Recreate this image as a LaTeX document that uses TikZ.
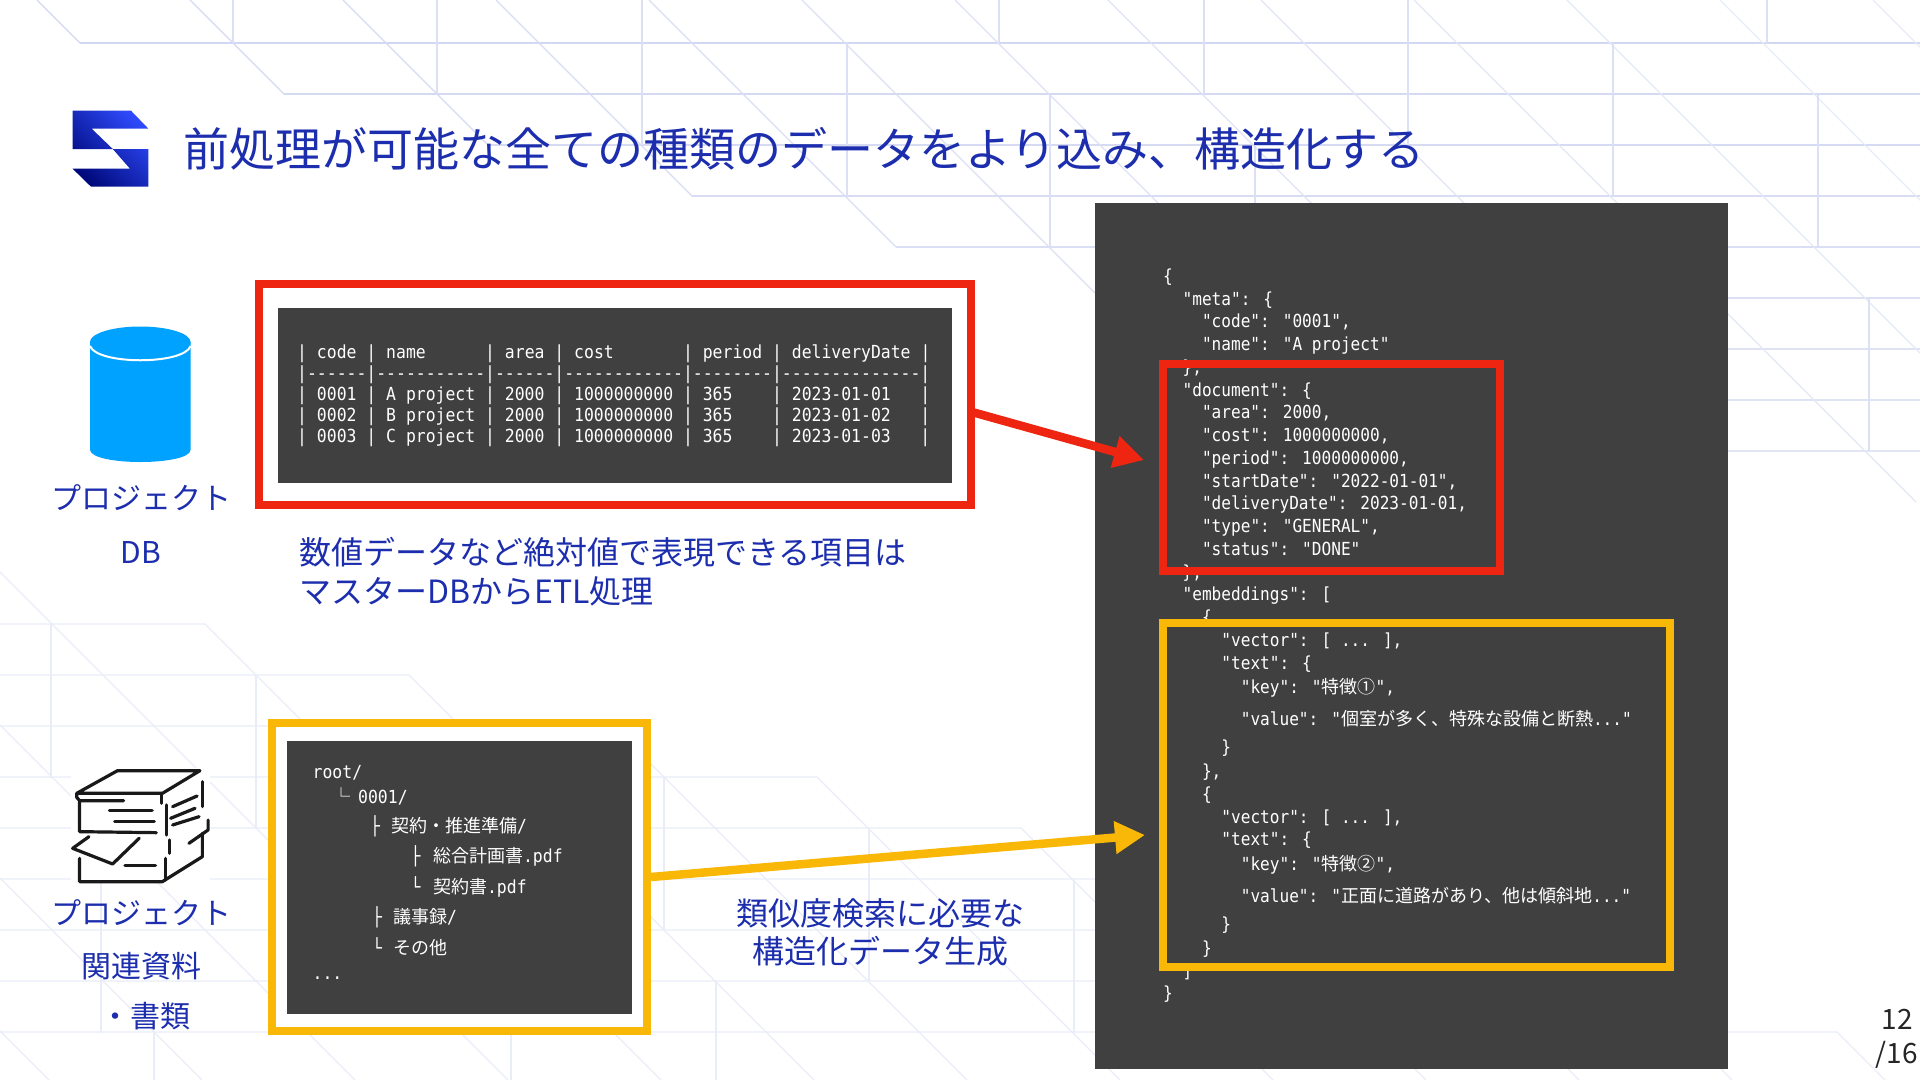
\documentclass[tikz,border=0pt]{standalone}
\usepackage{fontspec}
\usetikzlibrary{arrows.meta}
\setmainfont{Noto Sans CJK JP}
\newfontfamily\jpfont{Noto Sans CJK JP}
\newfontfamily\codefont[FakeStretch=0.913]{DejaVu Sans Mono}
\newfontfamily\jsonfont[FakeStretch=0.895]{DejaVu Sans Mono}
\newcommand{\jp}[1]{{\jpfont #1}}
\definecolor{inkblue}{HTML}{1C2EAD}
\definecolor{panelgray}{HTML}{404040}
\definecolor{hotred}{HTML}{EE2510}
\definecolor{warmyellow}{HTML}{F9B807}
\definecolor{griddark}{HTML}{D3D8F2}
\definecolor{gridlight}{HTML}{E9EDF7}
\definecolor{dbblue}{HTML}{00A2FF}
\definecolor{logodark}{HTML}{000A7C}
\definecolor{logobright}{HTML}{2E49FA}
\tikzset{
  gridline/.style={line width=1.3pt},
  panel/.style={rectangle, draw=black!75, fill=panelgray, line width=0.8pt, anchor=north west, inner sep=0pt},
  framebox/.style={rectangle, draw=#1, line width=8pt, anchor=north west, inner sep=0pt},
  codetext/.style={text=white, inner sep=0pt, align=left, font=\codefont\fontsize{18}{22.75}\selectfont},
  treeline/.style={codetext, anchor=west},
  sidelabel/.style={text=inkblue, inner sep=0pt, font=\fontsize{30}{36}\selectfont},
  caption/.style={text=inkblue, inner sep=0pt, font=\fontsize{32}{39}\selectfont},
  pagenum/.style={text=black!85, inner sep=0pt, anchor=east, font=\fontsize{28}{32}\selectfont},
  linkarrow/.style={draw=#1, line width=8.5pt, -{Triangle[length=30pt,width=31pt,fill=#1]}},
  iconline/.style={line width=3.2pt, line cap=round, line join=round, black!90}
}
\begin{document}
\begin{tikzpicture}[x=1pt, y=-1pt]
  \useasboundingbox (0,0) rectangle (1920,1080);
  \fill[white] (0,0) rectangle (1920,1080);

  % Background: upper sheet of lines
  \begin{scope}
    \clip (0,0) rectangle (1920,1080);
    \foreach \k in {0,...,12} {
      \pgfmathsetmacro\xtop{37+153*\k}
      \pgfmathsetmacro\yend{43+51*\k}
      \pgfmathsetmacro\xend{\xtop+\yend}
      \pgfmathtruncatemacro\mixpct{100-8*\k}
      \draw[gridline, griddark!\mixpct!gridlight] (\xtop,0) -- (\xend,\yend);
      \ifnum\k<9
        \draw[gridline, griddark!\mixpct!gridlight] (\xend,\yend) -- (1920,\yend);
      \fi
    }
    \foreach \xpos/\ya/\yb in {233/0/43, 437/0/94, 642/0/145, 847/43/196, 1050/94/247, 1255/145/298,
        999/0/43, 1204/0/94, 1408/0/145, 1613/43/196, 1818/94/247, 1869/298/451, 1767/0/43} {
      \draw[gridline, griddark!60!gridlight] (\xpos,\ya) -- (\xpos,\yb);
    }

    % Background: lower sheet of lines
    \foreach \k in {0,...,8} {
      \pgfmathsetmacro\xend{205+204*\k}
      \pgfmathsetmacro\yend{624+51*\k}
      \pgfmathsetmacro\xlow{\xend+1080-\yend}
      \draw[gridline, gridlight] (0,\yend) -- (\xend,\yend) -- (\xlow,1080);
    }
    \foreach \ystart in {572,725,878,1031} {
      \draw[gridline, gridlight] (0,\ystart) -- (1080-\ystart,1080);
    }
    \foreach \xpos/\ya/\yb in {51/624/778, 256/675/829, 460/726/880, 664/778/930, 869/829/982, 1074/880/1033,
        101/880/1033, 307/930/1033, 154/1033/1080, 511/1033/1080, 716/982/1080} {
      \draw[gridline, gridlight] (\xpos,\ya) -- (\xpos,\yb);
    }
  \end{scope}

  % Header
  \shade[bottom color=logodark, top color=logobright, shading angle=-45]
    (72.6,110.7) -- (131,110.7) -- (148.4,128.7) -- (91.7,128.7) -- (112.8,149) -- (72.6,149) -- cycle
    (112.8,149) -- (148.4,149) -- (148.4,186.7) -- (91,186.7) -- (72.6,168.7) -- (130,168.7) -- cycle;
  \node[anchor=west, inner sep=0pt, text=inkblue, font=\fontsize{46}{50}\selectfont] (titletext) at (183,149)
    {前処理が可能な全ての種類のデータをより込み、構造化する};

  % Left column: database
  \fill[dbblue] (90,342) -- (90,450) .. controls (92,466) and (189,466) .. (190.6,450) -- (190.6,342) -- cycle;
  \draw[white, line width=2pt] (90,346) .. controls (97,365) and (184,365) .. (190.6,346);
  \fill[dbblue] (140.3,342) ellipse [x radius=50.3, y radius=15.5];
  \node[sidelabel] (dblabela) at (141,498) {プロジェクト};
  \node[sidelabel] (dblabelb) at (141,552) {DB};

  % Left column: documents
  \begin{scope}[shift={(40,710)}, x=0.408pt, y=-0.3333pt]
    \fill[white] (75,175) rectangle (416,520);
    \draw[iconline] (205,272) -- (97,272) -- (90,262) -- (90,250) -- (190,182) -- (392,182) -- (300,250) -- (90,250);
    \draw[iconline] (298,250) -- (298,280);
    \draw[iconline] (97,275) -- (97,365) -- (285,368);
    \draw[iconline] (170,302) -- (275,302);
    \draw[iconline] (183,335) -- (280,335);
    \draw[iconline] (398,215) -- (398,290);
    \draw[iconline] (325,290) -- (385,258);
    \draw[iconline] (320,325) -- (380,295);
    \draw[iconline] (325,345) -- (390,320);
    \draw[iconline] (310,285) -- (310,375);
    \draw[iconline] (412,330) -- (412,360) -- (365,400);
    \draw[iconline] (120,380) -- (80,415) -- (178,462) -- (243,385);
    \draw[iconline] (97,445) -- (97,515) -- (300,515) -- (398,440) -- (398,370);
    \draw[iconline] (208,467) -- (283,467);
    \draw[iconline] (318,390) -- (318,430);
    \draw[iconline] (308,445) -- (308,510);
  \end{scope}
  \node[sidelabel] (doclabela) at (141,913) {プロジェクト};
  \node[sidelabel] (doclabelb) at (141,966) {関連資料};
  \node[sidelabel] (doclabelc) at (145,1016) {・書類};

  % Middle: master table
  \node[framebox=hotred, fill=white, minimum width=712.5, minimum height=221] (tablebox) at (254.5,280) {};
  \node[panel, minimum width=673, minimum height=173.5] (tablepanel) at (278,308) {};
  \node[codetext, anchor=north west, font=\codefont\fontsize{18}{21}\selectfont] (tabletext) at (297,345) {
    |~code~|~name~~~~~~|~area~|~cost~~~~~~~|~period~|~deliveryDate~|\\
    |------|-----------|------|------------|--------|--------------|\\
    |~0001~|~A~project~|~2000~|~1000000000~|~365~~~~|~2023-01-01~~~|\\
    |~0002~|~B~project~|~2000~|~1000000000~|~365~~~~|~2023-01-02~~~|\\
    |~0003~|~C~project~|~2000~|~1000000000~|~365~~~~|~2023-01-03~~~|};
  \node[caption, anchor=west] (tablecapa) at (299,552) {数値データなど絶対値で表現できる項目は};
  \node[caption, anchor=west] (tablecapb) at (299,591) {マスターDBからETL処理};

  % Middle: file tree
  \node[framebox=warmyellow, fill=white, minimum width=375, minimum height=308] (treebox) at (268,719) {};
  \node[panel, minimum width=344, minimum height=272] (treepanel) at (287,741) {};
  \node[treeline] (treeroot) at (312.5,773) {root/};
  \node[treeline] (treecode) at (332,796) {\jp{└}\hspace{8pt}0001/};
  \node[treeline] (treedeal) at (370,826) {├\hspace{11pt}\jp{契約・推進準備}/};
  \node[treeline] (treeplan) at (410.5,856) {├\hspace{12.5pt}\jp{総合計画書}.pdf};
  \node[treeline] (treepact) at (410.5,887) {└\hspace{12.5pt}\jp{契約書}.pdf};
  \node[treeline] (treemins) at (372,917) {├\hspace{11pt}\jp{議事録}/};
  \node[treeline] (treerest) at (372,947) {└\hspace{11pt}\jp{その他}};
  \node[treeline] (treedots) at (312.5,978) {...};
  \node[caption] (treecapa) at (880,913) {類似度検索に必要な};
  \node[caption] (treecapb) at (880,951) {構造化データ生成};

  % Right: generated json
  \node[panel, minimum width=631.5, minimum height=865] (jsonpanel) at (1095,203) {};
  \node[codetext, anchor=north west, font=\jsonfont\fontsize{18}{22.75}\selectfont] (jsontext) at (1163,268.5) {
    \{\\
    ~~"meta": \{\\
    ~~~~"code": "0001",\\
    ~~~~"name": "A~project"\\
    ~~\},\\
    ~~"document": \{\\
    ~~~~"area": 2000,\\
    ~~~~"cost": 1000000000,\\
    ~~~~"period": 1000000000,\\
    ~~~~"startDate": "2022-01-01",\\
    ~~~~"deliveryDate": 2023-01-01,\\
    ~~~~"type": "GENERAL",\\
    ~~~~"status": "DONE"\\
    ~~\},\\
    ~~"embeddings": [\\
    ~~~~\{\\
    ~~~~~~"vector": [ ... ],\\
    ~~~~~~"text": \{\\[1.5pt]
    ~~~~~~~~"key": "\jp{特徴①}",\\[9.5pt]
    ~~~~~~~~"value": "\jp{個室が多く、特殊な設備と断熱}..."\\[5.5pt]
    ~~~~~~\}\\[1pt]
    ~~~~\},\\
    ~~~~\{\\
    ~~~~~~"vector": [ ... ],\\
    ~~~~~~"text": \{\\[1.5pt]
    ~~~~~~~~"key": "\jp{特徴②}",\\[9.5pt]
    ~~~~~~~~"value": "\jp{正面に道路があり、他は傾斜地}..."\\[5.5pt]
    ~~~~~~\}\\[1pt]
    ~~~~\}\\
    ~~]\\
    \}};
  \node[framebox=hotred, minimum width=337.5, minimum height=207] (jsonred) at (1158.5,360) {};
  \node[framebox=warmyellow, minimum width=507, minimum height=344] (jsonyellow) at (1158.5,619) {};

  % Arrows
  \coordinate (redstart) at (972,412);
  \coordinate (redtip) at (1144,460);
  \coordinate (yellowtip) at (1145,835);
  \draw[linkarrow=hotred] (redstart) -- (redtip);
  \draw[linkarrow=warmyellow] (treebox.east) -- (yellowtip);

  % Page number
  \node[pagenum] (pagenow) at (1913,1019) {12};
  \node[pagenum] (pagetotal) at (1918,1055) {/16};
\end{tikzpicture}
\end{document}
